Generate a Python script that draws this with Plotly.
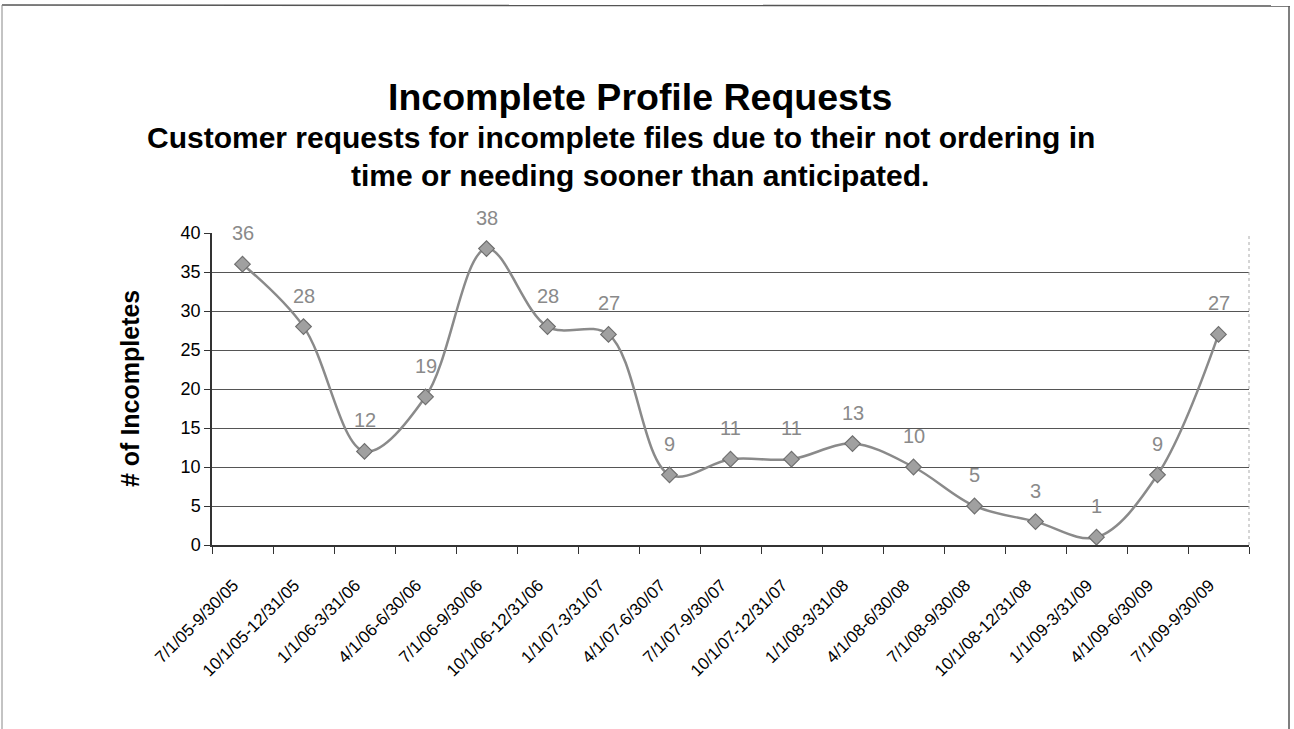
import plotly.graph_objects as go

categories = ["7/1/05-9/30/05", "10/1/05-12/31/05", "1/1/06-3/31/06", "4/1/06-6/30/06",
              "7/1/06-9/30/06", "10/1/06-12/31/06", "1/1/07-3/31/07", "4/1/07-6/30/07",
              "7/1/07-9/30/07", "10/1/07-12/31/07", "1/1/08-3/31/08", "4/1/08-6/30/08",
              "7/1/08-9/30/08", "10/1/08-12/31/08", "1/1/09-3/31/09", "4/1/09-6/30/09",
              "7/1/09-9/30/09"]
incompletes = [36, 28, 12, 19, 38, 28, 27, 9, 11, 11, 13, 10, 5, 3, 1, 9, 27]
y_ticks = [0, 5, 10, 15, 20, 25, 30, 35, 40]

W, H = 1294, 729
L, R, T, B = 212, 45, 233, 184
pw, ph = W - L - R, H - T - B
FONT = "Liberation Sans, Arial"

def px(x):
    return (x - L) / pw

def py(y):
    return (H - B - y) / ph

fig = go.Figure()
fig.add_trace(go.Scatter(
    x=categories, y=incompletes, mode="lines+markers",
    line=dict(color="#8a8a8a", width=2.5, shape="spline", smoothing=1.0),
    marker=dict(symbol="diamond", size=12, color="#a0a0a0",
                line=dict(color="#6f6f6f", width=1.2)),
    showlegend=False, hoverinfo="skip"))

annotations = []
for c, v in zip(categories, incompletes):
    annotations.append(dict(x=c, y=v, xref="x", yref="y", text=str(v), showarrow=False,
                            yshift=31, font=dict(family=FONT, size=20, color="#8a8a8a")))

annotations.append(dict(x=px(640), y=py(97), xref="paper", yref="paper", showarrow=False,
                        text="<b>Incomplete Profile Requests</b>", xanchor="center", yanchor="middle",
                        font=dict(family=FONT, size=37.5, color="#000")))
annotations.append(dict(x=px(621), y=py(137), xref="paper", yref="paper", showarrow=False,
                        text="<b>Customer requests for incomplete files due to their not ordering in</b>",
                        xanchor="center", yanchor="middle",
                        font=dict(family=FONT, size=30, color="#000")))
annotations.append(dict(x=px(640), y=py(175), xref="paper", yref="paper", showarrow=False,
                        text="<b>time or needing sooner than anticipated.</b>",
                        xanchor="center", yanchor="middle",
                        font=dict(family=FONT, size=30, color="#000")))
annotations.append(dict(x=px(130), y=py(389), xref="paper", yref="paper", showarrow=False,
                        text="<b># of Incompletes</b>", textangle=-90,
                        xanchor="center", yanchor="middle",
                        font=dict(family=FONT, size=25, color="#000")))

shapes = [
    dict(type="line", xref="paper", yref="paper", x0=px(2), x1=px(1290), y0=py(5), y1=py(6),
         line=dict(color="#555", width=1.5)),
    dict(type="line", xref="paper", yref="paper", x0=px(2), x1=px(2), y0=py(5), y1=py(729),
         line=dict(color="#888", width=1)),
    dict(type="line", xref="paper", yref="paper", x0=px(1289), x1=px(1289), y0=py(6), y1=py(729),
         line=dict(color="#555", width=1.5)),
    dict(type="line", xref="paper", yref="paper", x0=1, x1=1, y0=0, y1=1,
         line=dict(color="#aaa", width=1, dash="dot")),
]

fig.update_layout(
    width=W, height=H, margin=dict(l=L, r=R, t=T, b=B, autoexpand=False),
    paper_bgcolor="white", plot_bgcolor="white",
    annotations=annotations, shapes=shapes,
    font=dict(family=FONT, color="#000"),
    xaxis=dict(type="category", range=[-0.5, len(categories) - 0.5], tickangle=-45,
               tickson="boundaries", ticks="outside", ticklen=7, tickcolor="#333",
               ticklabelstandoff=22, ticklabelshift=-9,
               showline=True, linecolor="#333", linewidth=1.5, showgrid=False,
               tickfont=dict(size=17, family=FONT, color="#000")),
    yaxis=dict(range=[0, 40], tickvals=y_ticks, ticks="outside", ticklen=6, tickcolor="#333",
               showline=True, linecolor="#333", linewidth=1.5,
               showgrid=True, gridcolor="#555", gridwidth=1, zeroline=False,
               tickfont=dict(size=18, family=FONT, color="#000")),
)

fig.write_html("out.html")
